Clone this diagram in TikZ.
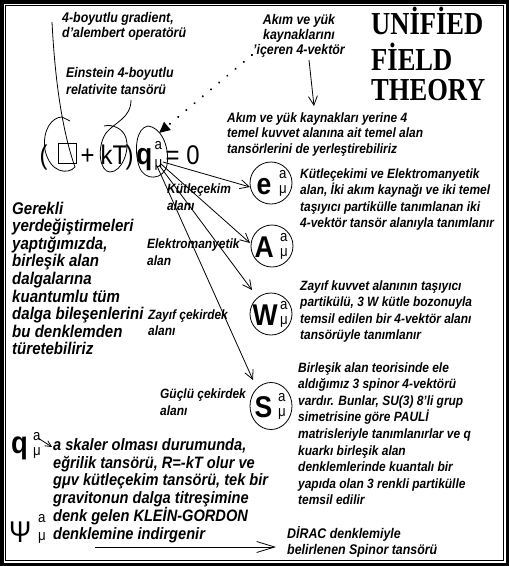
\documentclass[tikz,border=0pt]{standalone}
\usepackage{fontspec}
\setmainfont{Liberation Sans}[FakeStretch=0.885]
\newfontfamily\titlefont{Liberation Serif}[FakeStretch=0.83]
\usetikzlibrary{arrows.meta,shapes.geometric}
\newcommand\fsz[2]{\fontsize{#1}{#2}\selectfont}
\tikzset{
  lbl/.style={inner sep=0pt, anchor=base west, align=left, font=\fsz{14}{16}\bfseries\itshape},
  blk/.style={inner sep=0pt, anchor=base west, align=left, font=\fsz{13.5}{16.6}\bfseries\itshape},
  bigtxt/.style={inner sep=0pt, anchor=base west, align=left, font=\fsz{17}{17.5}\bfseries\itshape},
  ttl/.style={inner sep=0pt, anchor=base west, font=\titlefont\fsz{32}{32}\bfseries},
  eqn/.style={inner sep=0pt, anchor=base west, font=\fsz{27}{27}},
  eqb/.style={inner sep=0pt, anchor=base west, font=\fsz{30}{30}\bfseries},
  smallsym/.style={inner sep=0pt, anchor=base west, font=\fsz{15}{15}},
  fieldcirc/.style={draw, ellipse, line width=0.8pt, minimum width=42pt, minimum height=42pt, inner sep=0pt},
  ln/.style={line width=0.8pt},
  arr/.style={line width=0.8pt, -{Straight Barb[length=9pt,width=9pt]}},
}
\begin{document}
\begin{tikzpicture}[x=1pt,y=-1pt]
\useasboundingbox (0,0) rectangle (509,566);
\fill[white] (0,0) rectangle (509,566);
\draw[line width=3.5pt] (1.75,1.75) rectangle (507.25,564.25);
\draw[line width=1pt] (5.5,5.5) rectangle (503.5,560.5);

% title
\node[ttl] (t1) at (371,34) {UNİFİED};
\node[ttl] (t2) at (371,70) {FİELD};
\node[ttl] (t3) at (371,100) {THEORY};

% top labels (anchor = baseline of the last line)
\node[lbl, font=\fsz{14}{15.5}\bfseries\itshape] (grad) at (62,37.5) {4-boyutlu gradient,\\d'alembert operatörü};
\node[lbl, font=\fsz{14}{17}\bfseries\itshape] (einst) at (66,94) {Einstein 4-boyutlu\\relativite tansörü};
\node[lbl, anchor=base, align=center, font=\fsz{14}{15.2}\bfseries\itshape] (akim) at (299,54.4) {Akım ve yük\\kaynaklarını\\'içeren 4-vektör};
\node[blk, font=\fsz{13.5}{15.5}\bfseries\itshape] (yerine) at (227,153) {Akım ve yük kaynakları yerine 4\\temel kuvvet alanına ait temel alan\\tansörlerini de yerleştirebiliriz};

% equation
\node[eqn] (lp) at (39.5,164) {(};
\node[draw, line width=1pt, minimum width=18pt, minimum height=20pt, inner sep=0pt] (box) at (67,153) {};
\node[eqn] (plus) at (80.5,164) {+};
\node[eqn] (kT) at (100.5,164) {kT};
\node[eqn] (rp) at (125.5,164) {)};
\node[eqb] (q) at (136,164) {q};
\node[smallsym] (qa) at (154.5,149) {a};
\node[smallsym] (qm) at (154.5,167) {μ};
\node[eqn] (eq0) at (165.5,164) {= 0};

% loops
\coordinate (L1) at (52,22);
\coordinate (L2) at (131,100);
\draw[ln] (L1) .. controls (55,80) and (62,130) .. (75,167)
  .. controls (68,175) and (50,173) .. (45,150)
  .. controls (42,130) and (52,117) .. (62,117) -- (70,121);
\draw[ln] (L2) .. controls (131,118) and (115,122) .. (106,133)
  .. controls (96,148) and (100,172) .. (110,172)
  .. controls (122,172) and (130,150) .. (126,138)
  .. controls (123,128) and (112,124) .. (104,126);
\draw[ln] (148,126) .. controls (160,127) and (170,145) .. (167,165)
  .. controls (164,180) and (144,182) .. (139,166)
  .. controls (134,150) and (136,128) .. (148,126);

% dotted arrow and vertical arrow
\coordinate (dotS) at (252,55);
\coordinate (dotE) at (159,133);
\draw[line width=2.2pt, line cap=round, dash pattern=on 0.1pt off 10.6pt, -{Triangle[length=11pt,width=10pt]}] (dotS) -- (dotE);
\coordinate (vS) at (309,60);
\coordinate (vE) at (314,106);
\draw[arr] (vS) -- (vE);

% field circles
\node[fieldcirc] (E) at (271,183) {};
\node[fieldcirc] (A) at (272,246) {};
\node[fieldcirc] (W) at (271,314) {};
\node[fieldcirc, minimum height=47pt] (S) at (271,406) {};
\node[eqb] (El) at (256.5,194) {e};
\node[smallsym] (Ea) at (279,178) {a};
\node[smallsym] (Em) at (279,193) {μ};
\node[eqb] (Al) at (254.5,257) {A};
\node[smallsym] (Aa) at (280,241) {a};
\node[smallsym] (Am) at (280,256) {μ};
\node[eqb] (Wl) at (252.5,325) {W};
\node[smallsym] (Wa) at (280,309) {a};
\node[smallsym] (Wm) at (280,324) {μ};
\node[eqb] (Sl) at (254.5,417) {S};
\node[smallsym] (Sa) at (278,401) {a};
\node[smallsym] (Sm) at (278,416) {μ};

% line labels
\node[blk, font=\fsz{13.5}{17}\bfseries\itshape] (kl) at (167,210) {Kütleçekim\\alanı};
\node[blk, font=\fsz{13.5}{17}\bfseries\itshape] (el) at (147,265) {Elektromanyetik\\alan};
\node[blk, font=\fsz{13.5}{16}\bfseries\itshape] (zl) at (148,335) {Zayıf çekirdek\\alanı};
\node[blk, font=\fsz{13.5}{17}\bfseries\itshape] (gl) at (160,415) {Güçlü çekirdek\\alanı};

% arrows from q
\coordinate (oE) at (163,162);
\coordinate (oA) at (161,164);
\coordinate (oW) at (159,165);
\coordinate (oS) at (157,166);
\coordinate (tE) at (250,187);
\coordinate (tA) at (250,243);
\coordinate (tW) at (252,290);
\coordinate (tS) at (253,380);
\draw[arr] (oE) -- (tE);
\draw[arr] (oA) -- (tA);
\draw[arr] (oW) -- (tW);
\draw[arr] (oS) -- (tS);

% right text blocks
\node[blk] (eb) at (300,227.8) {Kütleçekimi ve Elektromanyetik\\alan, İki akım kaynağı ve iki temel\\taşıyıcı partikülle tanımlanan iki\\4-vektör tansör alanıyla tanımlanır};
\node[blk] (wb) at (300,339.8) {Zayıf kuvvet alanının taşıyıcı\\partikülü, 3 W kütle bozonuyla\\temsil edilen bir 4-vektör alanı\\tansörüyle tanımlanır};
\node[blk] (sb) at (298,504.8) {Birleşik alan teorisinde ele\\aldığımız 3 spinor 4-vektörü\\vardır. Bunlar, SU(3) 8'li grup\\simetrisine göre PAULİ\\matrisleriyle tanımlanırlar ve q\\kuarkı birleşik alan\\denklemlerinde kuantalı bir\\yapıda olan 3 renkli partikülle\\temsil edilir};

% left paragraph
\node[bigtxt, font=\fsz{17}{17.6}\bfseries\itshape] (left) at (12,354.8) {Gerekli\\yerdeğiştirmeleri\\yaptığımızda,\\birleşik alan\\dalgalarına\\kuantumlu tüm\\dalga bileşenlerini\\bu denklemden\\türetebiliriz};

% bottom
\node[inner sep=0pt, anchor=base west, font=\fsz{31}{31}\bfseries] (q2) at (11,453) {q};
\node[smallsym] (q2a) at (33,440) {a};
\node[smallsym] (q2m) at (33,455) {μ};
\coordinate (sS) at (38,438);
\coordinate (sE) at (52,447);
\draw[line width=0.8pt, -{Straight Barb[length=6pt,width=6pt]}] (sS) -- (sE);
\node[bigtxt, font=\fsz{16.5}{17.4}\bfseries\itshape] (bot) at (53,539) {a skaler olması durumunda,\\eğrilik tansörü, R=-kT olur ve\\gμv kütleçekim tansörü, tek bir\\gravitonun dalga titreşimine\\denk gelen KLEİN-GORDON\\denklemine indirgenir};
\node[inner sep=0pt, anchor=base west, font=\fsz{30}{30}] (psi) at (9,542) {Ψ};
\node[smallsym] (psia) at (38,522) {a};
\node[smallsym] (psim) at (38,540) {μ};
\coordinate (pS) at (95,547);
\coordinate (pE) at (276,547);
\draw[line width=0.8pt, -{Straight Barb[length=18pt,width=11pt]}] (pS) -- (pE);
\node[lbl, font=\fsz{14}{16.5}\bfseries\itshape] (dirac) at (287,554.5) {DİRAC denklemiyle\\belirlenen Spinor tansörü};
\end{tikzpicture}
\end{document}
